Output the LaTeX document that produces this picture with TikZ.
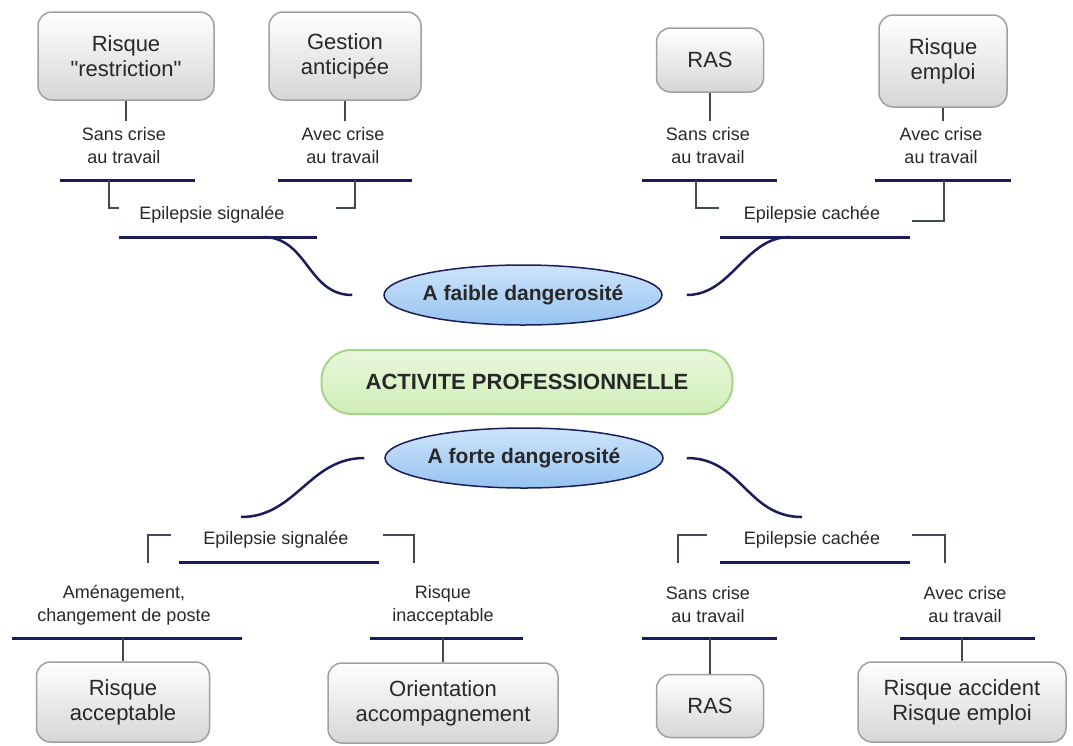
\documentclass[tikz,border=0pt]{standalone}
\usepackage{fontspec}
\setmainfont{Liberation Sans}[Ligatures=TeXOff]
\usetikzlibrary{shapes.geometric}

\definecolor{navy}{RGB}{28,28,92}
\definecolor{slate}{RGB}{64,74,84}
\definecolor{boxedge}{RGB}{160,160,160}
\definecolor{boxlow}{RGB}{214,214,214}
\definecolor{bluetop}{RGB}{205,228,250}
\definecolor{bluelow}{RGB}{150,195,240}
\definecolor{greenlight}{RGB}{232,248,218}
\definecolor{greenfill}{RGB}{208,238,184}
\definecolor{greenedge}{RGB}{165,214,140}
\definecolor{txt}{RGB}{40,40,40}

\begin{document}
\begin{tikzpicture}[x=1pt, y=-1pt,
    box/.style={draw=boxedge, line width=1.5pt, rounded corners=14pt, top color=white, bottom color=boxlow,
        align=center, text=txt, font=\fontsize{22}{25}\selectfont, inner sep=0pt},
    lab/.style={align=center, text=txt, font=\fontsize{18}{23}\selectfont, inner xsep=3pt, inner ysep=7pt},
    theme/.style={ellipse, draw=navy, line width=1.5pt, top color=bluetop, bottom color=bluelow, text=txt,
        font=\fontsize{21}{25}\selectfont\bfseries, inner sep=0pt, minimum width=278pt, minimum height=60pt},
    core/.style={draw=greenedge, line width=2pt, rounded corners=30pt, top color=greenlight, bottom color=greenfill,
        text=txt, font=\fontsize{22}{25}\selectfont\bfseries, minimum width=411pt, minimum height=64pt},
    bline/.style={navy, line width=3pt},
    link/.style={navy, line width=2.5pt},
    hook/.style={slate, line width=2pt},
    stemline/.style={slate, line width=1.5pt}]

    \fill[white] (0,0) rectangle (1073,745);
    \useasboundingbox (0,0) rectangle (1073,745);

    % centre
    \node[core] (act) at (527,382) {ACTIVITE PROFESSIONNELLE};
    \node[theme] (faible) at (523,295) {\makebox[150pt]{A faible dangerosité}};
    \node[theme] (forte) at (524,458) {\makebox[150pt]{A forte dangerosité}};

    % top left: epilepsie signalee
    \node[box, minimum width=176pt, minimum height=88pt] (rr) at (126,56) {Risque\\"restriction"};
    \node[box, minimum width=152pt, minimum height=88pt] (ga) at (345,56) {Gestion\\anticipée};
    \node[lab] (sc1) at (124,146) {Sans crise\\au travail};
    \node[lab] (ac1) at (343,146) {Avec crise\\au travail};
    \node[lab] (es1) at (212,215) {Epilepsie signalée};
    \coordinate (p1a) at (60,180);   \coordinate (p1b) at (195,180);
    \coordinate (p2a) at (278,180);  \coordinate (p2b) at (412,180);
    \coordinate (q1a) at (119,237);  \coordinate (q1b) at (317,237);
    \coordinate (k1) at (109,180);   \coordinate (k1e) at (119,208);
    \coordinate (k2) at (355,180);   \coordinate (k2e) at (336,208);
    \coordinate (u1) at (263,237);
    \draw[stemline] (rr.south) -- (rr.south |- sc1.north);
    \draw[stemline] (ga.south) -- (ga.south |- ac1.north);
    \draw[bline] (p1a) -- (p1b);
    \draw[bline] (p2a) -- (p2b);
    \draw[hook] (k1) |- (k1e);
    \draw[hook] (k2) |- (k2e);
    \draw[bline] (q1a) -- (q1b);
    \draw[link] ([xshift=-31pt]faible.west) .. controls +(-45,0) and +(45,0) .. (u1);

    % top right: epilepsie cachee
    \node[box, minimum width=107pt, minimum height=64pt] (ras1) at (710,60) {RAS};
    \node[box, minimum width=128pt, minimum height=92pt] (emp1) at (943,61) {Risque\\emploi};
    \node[lab] (sc2) at (708,146) {Sans crise\\au travail};
    \node[lab] (ac2) at (941,146) {Avec crise\\au travail};
    \node[lab] (es2) at (812,215) {Epilepsie cachée};
    \coordinate (p3a) at (642,180);  \coordinate (p3b) at (777,180);
    \coordinate (p4a) at (875,180);  \coordinate (p4b) at (1011,180);
    \coordinate (q2a) at (720,237);  \coordinate (q2b) at (910,237);
    \coordinate (k3) at (696,180);   \coordinate (k3e) at (719,208);
    \coordinate (k4) at (944,180);   \coordinate (k4e) at (912,221);
    \coordinate (u2) at (790,237);
    \draw[stemline] (ras1.south) -- (ras1.south |- sc2.north);
    \draw[stemline] (emp1.south) -- (emp1.south |- ac2.north);
    \draw[bline] (p3a) -- (p3b);
    \draw[bline] (p4a) -- (p4b);
    \draw[hook] (k3) |- (k3e);
    \draw[hook] (k4) |- (k4e);
    \draw[bline] (q2a) -- (q2b);
    \draw[link] ([xshift=24pt]faible.east) .. controls +(45,0) and +(-45,0) .. (u2);

    % bottom left: epilepsie signalee
    \node[lab] (es3) at (276,540) {Epilepsie signalée};
    \node[lab] (am) at (124,605) {Aménagement,\\changement de poste};
    \node[lab] (ri) at (443,605) {Risque\\inacceptable};
    \node[box, minimum width=173pt, minimum height=80pt] (ra) at (123,702) {Risque\\acceptable};
    \node[box, minimum width=230pt, minimum height=80pt] (oa) at (443,703) {Orientation\\accompagnement};
    \coordinate (q3a) at (179,562);  \coordinate (q3b) at (379,562);
    \coordinate (k5) at (148,563);   \coordinate (k5e) at (171,535);
    \coordinate (k6) at (414,563);   \coordinate (k6e) at (383,535);
    \coordinate (p5a) at (12,638);   \coordinate (p5b) at (242,638);
    \coordinate (p6a) at (370,638);  \coordinate (p6b) at (523,638);
    \coordinate (u3) at (241,517);
    \draw[link] ([xshift=-20pt]forte.west) .. controls +(-55,0) and +(55,0) .. (u3);
    \draw[bline] (q3a) -- (q3b);
    \draw[hook] (k5) |- (k5e);
    \draw[hook] (k6) |- (k6e);
    \draw[bline] (p5a) -- (p5b);
    \draw[bline] (p6a) -- (p6b);
    \draw[stemline] (ra.north) -- (ra.north |- p5a);
    \draw[stemline] (oa.north) -- (oa.north |- p6a);

    % bottom right: epilepsie cachee
    \node[lab] (es4) at (812,540) {Epilepsie cachée};
    \node[lab] (sc4) at (708,605) {Sans crise\\au travail};
    \node[lab] (ac4) at (965,605) {Avec crise\\au travail};
    \node[box, minimum width=107pt, minimum height=63pt] (ras2) at (710,706) {RAS};
    \node[box, minimum width=208pt, minimum height=80pt] (re2) at (962,702) {Risque accident\\Risque emploi};
    \coordinate (q4a) at (720,562);  \coordinate (q4b) at (910,562);
    \coordinate (k7) at (678,563);   \coordinate (k7e) at (707,535);
    \coordinate (k8) at (945,563);   \coordinate (k8e) at (912,535);
    \coordinate (p7a) at (642,638);  \coordinate (p7b) at (777,638);
    \coordinate (p8a) at (900,638);  \coordinate (p8b) at (1035,638);
    \coordinate (u4) at (802,517);
    \draw[link] ([xshift=23pt]forte.east) .. controls +(55,0) and +(-55,0) .. (u4);
    \draw[bline] (q4a) -- (q4b);
    \draw[hook] (k7) |- (k7e);
    \draw[hook] (k8) |- (k8e);
    \draw[bline] (p7a) -- (p7b);
    \draw[bline] (p8a) -- (p8b);
    \draw[stemline] (ras2.north) -- (ras2.north |- p7a);
    \draw[stemline] (re2.north) -- (re2.north |- p8a);
\end{tikzpicture}
\end{document}
